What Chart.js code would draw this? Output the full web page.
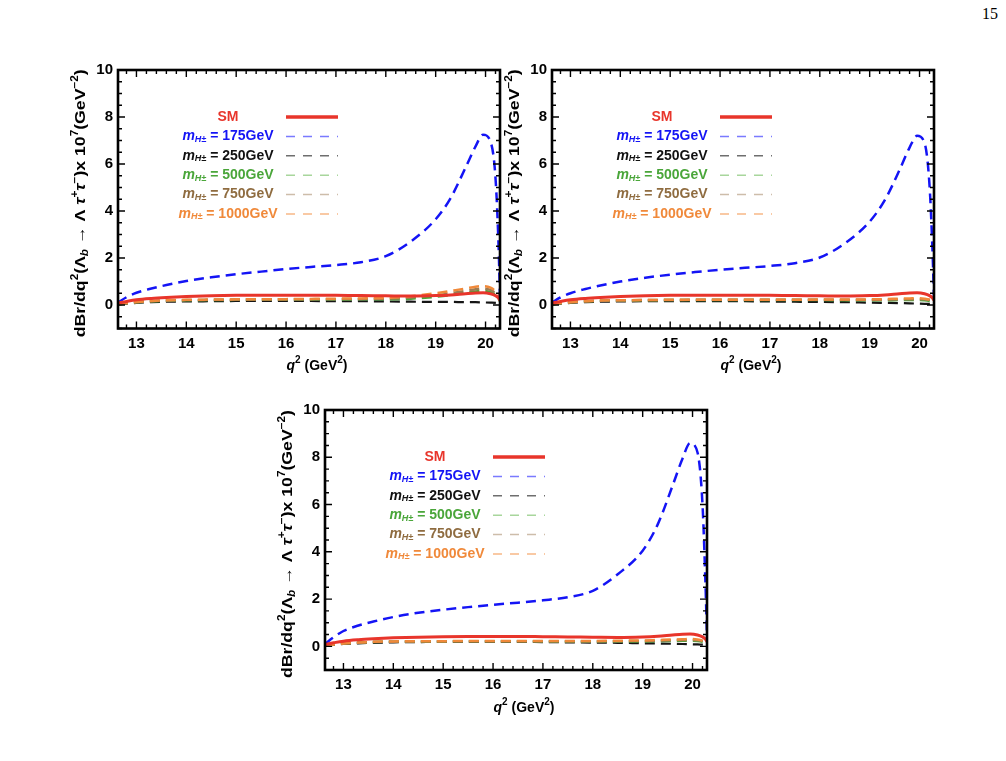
<!DOCTYPE html>
<html>
<head>
<meta charset="utf-8">
<script src="https://cdn.jsdelivr.net/npm/chart.js@4.4.0/dist/chart.umd.min.js"></script>
<style>
  body { margin: 0; background: #fff; width: 1006px; height: 761px; position: relative; overflow: hidden; }
  canvas { position: absolute; }
  #pagina { position: absolute; left: 982px; top: 5px; font: 16px "Liberation Serif", "Times New Roman", serif; color: #000; }
</style>
</head>
<body>
<div id="pagina">15</div>
<canvas id="grafico1" width="490" height="340" style="left:30px;top:50px"></canvas>
<canvas id="grafico2" width="490" height="340" style="left:464px;top:50px"></canvas>
<canvas id="grafico3" width="490" height="340" style="left:237px;top:390px"></canvas>
<script>
// valores de q^2 (GeV^2)
const q2 = [12.63, 12.8, 13.0, 13.3, 13.6, 14.0, 14.5, 15.0, 15.5, 16.0, 16.5, 17.0, 17.5, 18.0, 18.5, 19.0, 19.3, 19.6, 19.8, 19.95, 20.1, 20.2, 20.26, 20.29];
const xTicks = [13, 14, 15, 16, 17, 18, 19, 20];
const yTicks = [0, 2, 4, 6, 8, 10];
const masas = ["175", "250", "500", "750", "1000"];

// SM (igual en los tres graficos)
const sm = [0.08, 0.15, 0.22, 0.28, 0.32, 0.36, 0.39, 0.41, 0.42, 0.42, 0.42, 0.41, 0.40, 0.39, 0.38, 0.40, 0.43, 0.48, 0.51, 0.52, 0.48, 0.40, 0.30, 0.20];

// grafico 1 (arriba izquierda)
const h175a = [0.10, 0.33, 0.52, 0.70, 0.85, 1.02, 1.18, 1.31, 1.42, 1.53, 1.62, 1.70, 1.82, 2.08, 2.70, 3.65, 4.55, 5.85, 6.75, 7.25, 6.95, 5.40, 2.60, 0.30];
const h250a = [0.02, 0.06, 0.09, 0.12, 0.14, 0.15, 0.16, 0.17, 0.17, 0.17, 0.17, 0.16, 0.16, 0.15, 0.14, 0.13, 0.13, 0.12, 0.12, 0.11, 0.10, 0.09, 0.07, 0.05];
const h500a = [0.03, 0.08, 0.12, 0.16, 0.18, 0.20, 0.21, 0.22, 0.23, 0.23, 0.23, 0.23, 0.24, 0.24, 0.27, 0.35, 0.42, 0.52, 0.58, 0.60, 0.55, 0.45, 0.30, 0.15];
const h750a = [0.03, 0.08, 0.12, 0.16, 0.19, 0.21, 0.22, 0.23, 0.24, 0.24, 0.25, 0.25, 0.26, 0.27, 0.32, 0.42, 0.50, 0.60, 0.67, 0.70, 0.64, 0.50, 0.35, 0.18];
const h1000a = [0.03, 0.08, 0.13, 0.17, 0.20, 0.22, 0.23, 0.24, 0.25, 0.25, 0.26, 0.27, 0.28, 0.30, 0.37, 0.50, 0.60, 0.70, 0.78, 0.80, 0.74, 0.58, 0.40, 0.20];

// grafico 2 (arriba derecha)
const h175b = [0.10, 0.32, 0.50, 0.68, 0.83, 1.00, 1.16, 1.29, 1.40, 1.50, 1.58, 1.66, 1.78, 2.02, 2.62, 3.55, 4.45, 5.75, 6.70, 7.20, 6.90, 5.10, 2.30, 0.30];
const h250b = [0.02, 0.06, 0.09, 0.12, 0.14, 0.15, 0.16, 0.16, 0.16, 0.16, 0.16, 0.15, 0.14, 0.13, 0.12, 0.10, 0.09, 0.08, 0.07, 0.06, 0.05, 0.05, 0.04, 0.03];
const h500b = [0.03, 0.08, 0.12, 0.16, 0.18, 0.19, 0.20, 0.21, 0.21, 0.21, 0.21, 0.21, 0.21, 0.21, 0.20, 0.20, 0.20, 0.21, 0.21, 0.21, 0.20, 0.17, 0.13, 0.08];
const h750b = [0.03, 0.08, 0.12, 0.16, 0.18, 0.20, 0.21, 0.21, 0.22, 0.22, 0.22, 0.22, 0.22, 0.22, 0.22, 0.22, 0.23, 0.24, 0.25, 0.25, 0.24, 0.21, 0.15, 0.09];
const h1000b = [0.03, 0.08, 0.12, 0.16, 0.19, 0.20, 0.21, 0.22, 0.22, 0.22, 0.22, 0.22, 0.22, 0.23, 0.23, 0.24, 0.25, 0.27, 0.28, 0.29, 0.27, 0.23, 0.17, 0.10];

// grafico 3 (abajo)
const h175c = [0.10, 0.38, 0.65, 0.88, 1.05, 1.24, 1.42, 1.55, 1.66, 1.76, 1.85, 1.95, 2.08, 2.35, 3.05, 4.05, 5.15, 6.80, 7.95, 8.60, 8.20, 6.00, 2.60, 0.40];
const h250c = [0.02, 0.06, 0.10, 0.13, 0.15, 0.17, 0.18, 0.19, 0.19, 0.19, 0.19, 0.18, 0.17, 0.16, 0.15, 0.13, 0.12, 0.11, 0.10, 0.09, 0.08, 0.07, 0.06, 0.04];
const h500c = [0.03, 0.08, 0.12, 0.16, 0.18, 0.20, 0.21, 0.21, 0.22, 0.22, 0.22, 0.21, 0.21, 0.21, 0.21, 0.21, 0.22, 0.23, 0.24, 0.24, 0.23, 0.19, 0.14, 0.09];
const h750c = [0.03, 0.08, 0.12, 0.16, 0.18, 0.20, 0.21, 0.22, 0.22, 0.22, 0.22, 0.22, 0.22, 0.22, 0.22, 0.23, 0.24, 0.26, 0.27, 0.27, 0.26, 0.22, 0.16, 0.10];
const h1000c = [0.03, 0.08, 0.12, 0.16, 0.19, 0.21, 0.22, 0.22, 0.23, 0.23, 0.23, 0.23, 0.23, 0.23, 0.24, 0.25, 0.27, 0.29, 0.30, 0.31, 0.29, 0.24, 0.18, 0.11];

const FUENTE = '"Liberation Sans", Arial, Helvetica, sans-serif';
const colores = ["#e8352b", "#1414f5", "#151515", "#4aa63a", "#9c7b52", "#f0893a"];
const coloresLeyenda = ["#e8352b", "#7a7aff", "#6e6e6e", "#a8d69c", "#cdbdaa", "#f8b887"];
const coloresTexto = ["#e8352b", "#1414f5", "#111111", "#4aa63a", "#8f6c40", "#f0893a"];

// dibuja texto con partes (sub/superindices): [texto, tamaño, estilo, desplazamiento]
function anchoRico(ctx, piezas) {
  let total = 0;
  piezas.forEach(p => {
    ctx.font = p[2] + " " + p[1] + "px " + FUENTE;
    total += ctx.measureText(p[0]).width;
  });
  return total;
}

function textoRico(ctx, piezas, x, y) {
  let cx = x - anchoRico(ctx, piezas) / 2;
  piezas.forEach(p => {
    ctx.font = p[2] + " " + p[1] + "px " + FUENTE;
    ctx.fillText(p[0], cx, y + p[3]);
    cx += ctx.measureText(p[0]).width;
  });
}

const tituloY = [
  ["dBr/dq", 15, "bold", 0], ["2", 10, "bold", -6], ["(Λ", 15, "bold", 0], ["b", 10, "italic bold", 4],
  [" → Λ ", 15, "bold", 0], ["τ", 15, "italic bold", 0], ["+", 10, "bold", -6], ["τ", 15, "italic bold", 0],
  ["−", 10, "bold", -6], [")x 10", 15, "bold", 0], ["7", 10, "bold", -6], ["(GeV", 15, "bold", 0],
  ["−2", 10, "bold", -6], [")", 15, "bold", 0]
];
const tituloX = [["q", 14, "italic bold", 0], ["2", 10, "bold", -6], [" (GeV", 14, "bold", 0], ["2", 10, "bold", -6], [")", 14, "bold", 0]];

// marco, marcas hacia adentro, leyenda y titulos
const marcoPlugin = {
  id: "marco",
  afterDraw(chart) {
    const ctx = chart.ctx, a = chart.chartArea;
    const sx = chart.scales.x, sy = chart.scales.y;
    ctx.save();
    ctx.strokeStyle = "#000";
    ctx.lineWidth = 1.4;
    ctx.beginPath();
    for (let k = 64; k <= 101; k++) {
      const px = sx.getPixelForValue(k / 5);
      const largo = k % 5 === 0 ? 7 : 4;
      ctx.moveTo(px, a.bottom); ctx.lineTo(px, a.bottom - largo);
      ctx.moveTo(px, a.top); ctx.lineTo(px, a.top + largo);
    }
    for (let k = -2; k <= 20; k++) {
      const py = sy.getPixelForValue(k / 2);
      const largo = k % 4 === 0 ? 7 : 4;
      ctx.moveTo(a.left, py); ctx.lineTo(a.left + largo, py);
      ctx.moveTo(a.right, py); ctx.lineTo(a.right - largo, py);
    }
    ctx.stroke();
    ctx.lineWidth = 2.6;
    ctx.strokeRect(a.left, a.top, a.right - a.left, a.bottom - a.top);

    // leyenda
    ctx.textBaseline = "middle";
    chart.data.datasets.forEach((ds, i) => {
      const y = a.top + 47 + i * 19.4;
      ctx.fillStyle = coloresTexto[i];
      if (i === 0) {
        textoRico(ctx, [["SM", 14, "bold", 0]], a.left + 110, y);
      } else {
        textoRico(ctx, [["m", 14, "italic bold", 0], ["H±", 9, "italic bold", 3], [" = " + masas[i - 1] + "GeV", 14, "bold", 0]], a.left + 110, y);
      }
      ctx.beginPath();
      ctx.strokeStyle = coloresLeyenda[i];
      ctx.lineWidth = i === 0 ? 3.5 : 1.5;
      ctx.setLineDash(i === 0 ? [] : [9, 8]);
      ctx.moveTo(a.left + 168, y);
      ctx.lineTo(a.left + 220, y);
      ctx.stroke();
    });
    ctx.setLineDash([]);

    // titulo eje y (rotado)
    ctx.fillStyle = "#000";
    ctx.save();
    ctx.translate(a.left - 37, (a.top + a.bottom) / 2 + 4);
    ctx.rotate(-Math.PI / 2);
    const w = anchoRico(ctx, tituloY);
    ctx.scale(268 / w, 1);
    textoRico(ctx, tituloY, 0, 0);
    ctx.restore();

    // titulo eje x
    textoRico(ctx, tituloX, (a.left + a.right) / 2 + 8, a.bottom + 38);
    ctx.restore();
  }
};

function serie(valores, i, orden) {
  return {
    label: i === 0 ? "SM" : "mH = " + masas[i - 1] + "GeV",
    data: q2.map((x, k) => ({ x: x, y: valores[k] })),
    borderColor: colores[i],
    borderWidth: i === 0 ? 3 : (i === 2 ? 2.2 : 2.5),
    borderDash: i === 0 ? [] : [10, 6],
    pointRadius: 0,
    cubicInterpolationMode: "monotone",
    fill: false,
    order: orden
  };
}

function crearGrafico(id, datos, altoX) {
  const fuenteTicks = { family: FUENTE, size: 15, weight: "bold" };
  new Chart(document.getElementById(id).getContext("2d"), {
    type: "line",
    data: {
      datasets: [
        serie(datos[0], 0, 0),
        serie(datos[1], 1, 1),
        serie(datos[2], 2, 5),
        serie(datos[3], 3, 4),
        serie(datos[4], 4, 3),
        serie(datos[5], 5, 2)
      ]
    },
    options: {
      responsive: false,
      animation: false,
      devicePixelRatio: 1,
      layout: { padding: { top: 20, right: 20, left: 0, bottom: 0 } },
      plugins: { legend: { display: false }, tooltip: { enabled: false } },
      scales: {
        x: {
          type: "linear", min: 12.63, max: 20.29,
          grid: { display: false, drawTicks: false }, border: { display: false },
          afterBuildTicks: s => { s.ticks = xTicks.map(v => ({ value: v })); },
          afterFit: s => { s.height = altoX; },
          ticks: { padding: 6, color: "#000", font: fuenteTicks, maxRotation: 0, autoSkip: false }
        },
        y: {
          type: "linear", min: -1, max: 10,
          grid: { display: false, drawTicks: false }, border: { display: false },
          afterBuildTicks: s => { s.ticks = yTicks.map(v => ({ value: v })); },
          afterFit: s => { s.width = 88; },
          ticks: { padding: 5, color: "#000", font: fuenteTicks, autoSkip: false }
        }
      }
    },
    plugins: [marcoPlugin]
  });
}

crearGrafico("grafico1", [sm, h175a, h250a, h500a, h750a, h1000a], 61.5);
crearGrafico("grafico2", [sm, h175b, h250b, h500b, h750b, h1000b], 61.5);
crearGrafico("grafico3", [sm, h175c, h250c, h500c, h750c, h1000c], 60);
</script>
</body>
</html>
